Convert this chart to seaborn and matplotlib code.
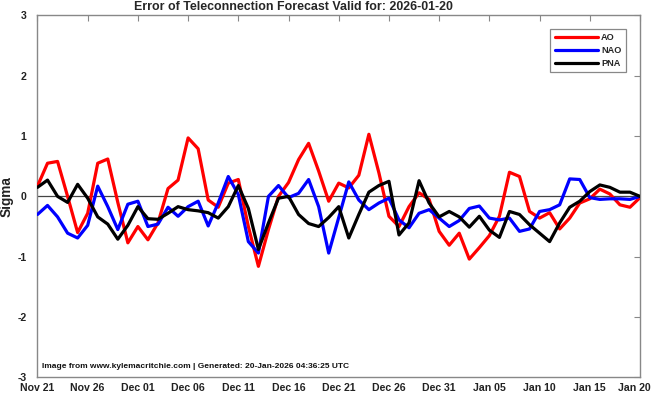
import pandas as pd
import numpy as np
import matplotlib
matplotlib.use("Agg")
import matplotlib.pyplot as plt
import matplotlib.transforms as mtransforms
import seaborn as sns

sns.set_style("white")
plt.rcParams["font.family"] = ["Liberation Sans", "DejaVu Sans"]

# -----------------------------------------------------------
# DATA
# -----------------------------------------------------------
dates = pd.date_range("2025-11-21", "2026-01-20", freq="D")

ao = [0.17, 0.55, 0.58, 0.00, -0.60, -0.28, 0.55, 0.62, -0.10, -0.77,
      -0.50, -0.72, -0.44, 0.13, 0.27, 0.97, 0.79, -0.06, -0.18, 0.22,
      0.28, -0.50, -1.16, -0.55, 0.00, 0.23, 0.61, 0.88, 0.42, -0.08,
      0.22, 0.14, 0.35, 1.03, 0.39, -0.33, -0.50, -0.17, 0.06, -0.05,
      -0.58, -0.81, -0.61, -1.04, -0.85, -0.65, -0.33, 0.40, 0.33, -0.25,
      -0.36, -0.27, -0.54, -0.36, -0.11, -0.04, 0.12, 0.04, -0.14, -0.18,
      -0.02]

nao = [-0.30, -0.15, -0.34, -0.61, -0.69, -0.48, 0.17, -0.17, -0.55, -0.13,
       -0.08, -0.50, -0.46, -0.18, -0.33, -0.17, -0.08, -0.49, -0.11, 0.33,
       0.03, -0.75, -0.94, 0.00, 0.18, -0.02, 0.05, 0.28, -0.17, -0.94,
       -0.35, 0.24, -0.06, -0.22, -0.11, -0.03, -0.39, -0.52, -0.28, -0.22,
       -0.36, -0.50, -0.40, -0.20, -0.16, -0.36, -0.39, -0.36, -0.58, -0.54,
       -0.25, -0.22, -0.14, 0.29, 0.28, -0.02, -0.05, -0.04, -0.04, -0.05,
       0.00]

pna = [0.15, 0.27, 0.00, -0.10, 0.20, -0.03, -0.34, -0.46, -0.71, -0.48,
       -0.17, -0.37, -0.38, -0.28, -0.17, -0.22, -0.24, -0.27, -0.36, -0.17,
       0.18, -0.20, -0.88, -0.44, -0.03, 0.00, -0.30, -0.45, -0.50, -0.35,
       -0.17, -0.69, -0.30, 0.07, 0.18, 0.25, -0.64, -0.44, 0.26, -0.11,
       -0.34, -0.25, -0.34, -0.51, -0.33, -0.56, -0.68, -0.25, -0.30, -0.47,
       -0.61, -0.75, -0.44, -0.18, -0.08, 0.08, 0.19, 0.15, 0.07, 0.07,
       0.00]

series_names = ["AO", "NAO", "PNA"]
series_colors = ["#ff0000", "#0000ff", "#000000"]
yticks = [-3, -2, -1, 0, 1, 2, 3]

df = pd.DataFrame({"Date": dates, "AO": ao, "NAO": nao, "PNA": pna})
long_df = df.melt(id_vars="Date", var_name="Index", value_name="Sigma")

# -----------------------------------------------------------
# PLOT
# -----------------------------------------------------------
fig = plt.figure(figsize=(6.54, 3.94), dpi=100)
ax = fig.add_axes([0.0573, 0.0424, 0.9213, 0.9183])

ax.axhline(0, color="#444444", lw=0.9, zorder=1)
sns.lineplot(data=long_df, x="Date", y="Sigma", hue="Index",
             hue_order=series_names, palette=series_colors,
             linewidth=2.3, ax=ax, zorder=3)

ax.set_xlim(dates[0], dates[-1])
ax.set_ylim(-3, 3)
ax.set_yticks(yticks)
ax.set_yticklabels([str(t) for t in yticks])
tick_dates = dates[::5]
ax.set_xticks(tick_dates)
ax.set_xticklabels([d.strftime("%b %d") for d in tick_dates])

for s in ax.spines.values():
    s.set_color("#888888")
    s.set_linewidth(1.0)
ax.tick_params(axis="both", direction="in", length=4, color="#888888",
               top=True, right=True, labelsize=7.6, labelcolor="#222222")
ax.tick_params(axis="x", pad=4)
ax.tick_params(axis="y", pad=8)
for lbl in ax.get_xticklabels() + ax.get_yticklabels():
    lbl.set_fontweight("bold")

# keep the last date label inside the figure
last = ax.get_xticklabels()[-1]
last.set_transform(last.get_transform() +
                   mtransforms.ScaledTranslation(-4 / 72, 0, fig.dpi_scale_trans))

ax.set_xlabel("")
ax.set_ylabel("Sigma", fontsize=9.8, fontweight="bold", color="#222222")
ax.yaxis.set_label_coords(-0.040, 0.5)

leg = ax.legend(loc="upper right", bbox_to_anchor=(0.977, 0.963),
                borderaxespad=0, fancybox=False, edgecolor="#888888",
                framealpha=1, handlelength=4.7, handletextpad=0.38,
                labelspacing=0.4, borderpad=0.5,
                prop={"weight": "bold", "size": 6.6})
leg.get_frame().set_linewidth(0.9)

ax.text(0.0075, 0.031,
        "Image from www.kylemacritchie.com | Generated: 20-Jan-2026 04:36:25 UTC",
        transform=ax.transAxes, ha="left", va="center",
        fontsize=6.05, fontweight="bold", color="#111111")

fig.text(0.449, 0.982, "Error of Teleconnection Forecast Valid for: 2026-01-20",
         ha="center", va="center", fontsize=8.9, fontweight="bold")

fig.savefig("out.png", dpi=100)
